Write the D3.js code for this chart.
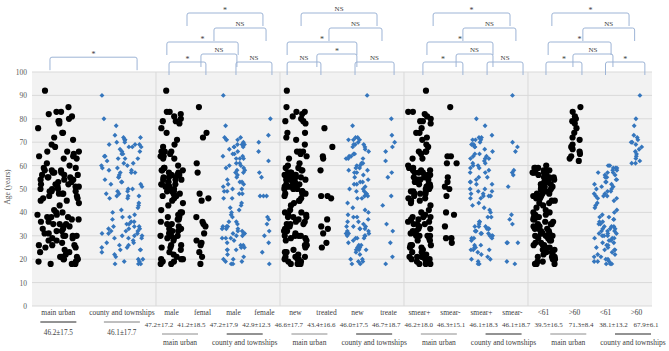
<!DOCTYPE html>
<html>
<head>
<meta charset="utf-8">
<script src="https://cdn.jsdelivr.net/npm/d3@7"></script>
<style>
body { margin: 0; background: #fff; }
svg { display: block; font-family: "Liberation Serif", "Times New Roman", serif; }
</style>
</head>
<body>
<div id="chart"></div>
<script>
// ---- data ----
const catLabels = ["main urban", "county and townships",
  "male", "femal", "male", "female",
  "new", "treated", "new", "treate",
  "smear+", "smear-", "smear+", "smear-",
  "<61", ">60", "<61", ">60"];
const catSite = ["main", "county",
  "main", "main", "county", "county",
  "main", "main", "county", "county",
  "main", "main", "county", "county",
  "main", "main", "county", "county"];
const meanSd = ["46.2±17.5", "46.1±17.7",
  "47.2±17.2", "41.2±18.5", "47.2±17.9", "42.9±12.3",
  "46.6±17.7", "43.4±16.6", "46.0±17.5", "46.7±18.7",
  "46.2±18.0", "46.3±15.1", "46.1±18.3", "46.1±18.7",
  "39.5±16.5", "71.3±8.4", "38.1±13.2", "67.9±6.1"];
const groupLabels = ["main urban", "county and townships", "main urban", "county and townships",
  "main urban", "county and townships", "main urban", "county and townships"];
const yTicks = [0, 10, 20, 30, 40, 50, 60, 70, 80, 90, 100];

// ages (years) per category
const mainUrban = [92, 85, 83, 83, 82, 81, 80, 79, 79, 78, 76, 74, 74, 72, 71, 69, 68, 66, 66, 66, 65, 64, 64, 63, 63, 61, 60,
  59, 59, 58, 58, 58, 57, 57, 57, 56, 56, 56, 55, 55, 55, 54, 54, 54, 53, 53, 52, 52, 52, 51, 51, 51, 50, 50, 50,
  49, 49, 49, 48, 48, 48, 47, 47, 46, 46, 45, 45, 44, 43, 41, 40, 40,
  39, 39, 38, 38, 38, 37, 37, 36, 36, 35, 35, 35, 34, 34, 33, 33, 32, 32, 31, 31, 30, 30, 30, 30,
  29, 29, 28, 28, 27, 26, 26, 26, 25, 25, 24, 23, 23, 22, 21, 21, 21, 20, 20, 20, 19, 19, 18, 18, 18];
const county = [90, 80, 77, 73, 72, 72, 71, 71, 71, 70, 70, 69, 69, 69, 68, 68, 68, 67, 66, 66, 65, 65, 64, 64, 63, 63, 63,
  62, 61, 61, 60, 60, 59, 59, 58, 58, 57, 57, 57, 56, 55, 55, 54, 53, 53, 52, 52, 51, 50, 50, 49, 49, 48, 48, 47, 47, 47, 46, 46,
  44, 43, 42, 41, 40, 39, 38, 38, 37, 36, 36, 35, 35, 34, 34, 34, 33, 33, 33, 32, 32, 32, 31, 31, 31, 30, 30, 30, 29, 29, 29,
  28, 27, 27, 26, 26, 25, 25, 24, 24, 24, 23, 22, 21, 20, 20, 19, 19, 18, 18, 18];
const maleMain = [92, 83, 83, 82, 81, 80, 79, 79, 78, 76, 74, 71, 69, 68, 66, 66, 66, 65, 64, 64, 63, 63, 60, 59, 59, 58, 58, 58,
  57, 57, 56, 56, 56, 55, 55, 55, 54, 54, 54, 53, 53, 52, 52, 52, 51, 51, 51, 50, 50, 50, 49, 49, 49, 48, 48, 47, 47, 46, 45,
  44, 43, 41, 40, 40, 39, 39, 38, 38, 37, 37, 36, 35, 35, 34, 33, 33, 32, 32, 31, 30, 30, 30, 30, 29, 29, 28, 26, 26, 25, 25,
  24, 23, 22, 21, 20, 20, 20, 19, 19, 18, 18];
const femalMain = [85, 74, 72, 61, 57, 48, 46, 45, 38, 36, 35, 34, 31, 28, 27, 26, 23, 21, 18];
const maleCounty = [90, 77, 72, 72, 71, 71, 71, 70, 69, 69, 69, 68, 68, 68, 67, 66, 65, 65, 64, 64, 63, 63, 63, 61, 61, 60, 60,
  59, 59, 58, 58, 57, 57, 56, 55, 54, 53, 53, 52, 52, 51, 50, 50, 49, 49, 48, 48, 46, 46, 44, 43, 42, 41, 40, 39, 38, 36, 36,
  35, 34, 34, 34, 33, 33, 33, 32, 32, 31, 31, 31, 30, 30, 29, 29, 29, 28, 27, 26, 26, 25, 25, 24, 24, 24, 22, 21, 20, 20, 19, 19, 18, 18];
const femaleCounty = [80, 73, 70, 66, 62, 57, 55, 47, 47, 47, 38, 37, 35, 32, 30, 27, 23, 18];
const newMain = [92, 85, 83, 83, 82, 81, 80, 79, 79, 78, 74, 74, 72, 71, 69, 66, 66, 66, 65, 64, 63, 61, 60, 59, 59, 58, 58,
  57, 57, 57, 56, 56, 56, 55, 55, 55, 54, 54, 54, 53, 53, 52, 52, 52, 51, 51, 51, 50, 50, 50, 49, 49, 49, 48, 48, 48, 47, 46,
  45, 45, 44, 43, 41, 40, 40, 39, 39, 38, 38, 38, 37, 36, 36, 35, 35, 35, 34, 33, 32, 32, 31, 30, 30, 30, 30, 29, 29, 28, 28,
  26, 26, 26, 25, 24, 23, 23, 22, 21, 21, 21, 20, 20, 20, 19, 19, 18, 18, 18];
const treatedMain = [76, 68, 64, 63, 58, 47, 47, 46, 37, 34, 33, 31, 27, 25];
const newCounty = [90, 77, 72, 72, 71, 71, 71, 70, 69, 69, 69, 68, 68, 67, 66, 65, 65, 64, 64, 63, 63, 63, 61, 61, 60, 60,
  59, 59, 58, 58, 57, 57, 56, 55, 54, 53, 53, 52, 52, 51, 50, 50, 49, 49, 48, 48, 47, 47, 46, 46, 44, 42, 41, 40, 39, 38, 38,
  37, 36, 36, 35, 34, 34, 34, 33, 33, 33, 32, 32, 31, 31, 31, 30, 30, 30, 29, 29, 29, 28, 27, 26, 26, 25, 25, 24, 24, 24,
  23, 22, 20, 20, 19, 19, 18, 18];
const treatedCounty = [80, 73, 70, 68, 66, 62, 57, 55, 47, 43, 35, 32, 27, 21, 18];
const smearPosMain = [92, 83, 83, 82, 81, 80, 79, 79, 78, 76, 74, 74, 72, 71, 69, 68, 66, 66, 66, 65, 63, 63, 60, 59, 59,
  58, 58, 58, 57, 57, 57, 56, 56, 56, 55, 55, 54, 54, 54, 53, 52, 52, 52, 51, 51, 50, 50, 49, 49, 49, 48, 48, 48, 47, 46, 46,
  45, 45, 44, 43, 41, 40, 39, 38, 38, 38, 37, 37, 36, 36, 35, 35, 35, 34, 33, 33, 32, 32, 31, 31, 30, 30, 30, 30, 29, 28, 28,
  26, 26, 26, 25, 25, 24, 23, 23, 22, 21, 21, 21, 20, 20, 20, 19, 19, 18, 18, 18];
const smearNegMain = [85, 64, 64, 61, 61, 55, 53, 51, 50, 47, 40, 39, 34, 29, 29, 27];
const smearPosCounty = [80, 77, 73, 72, 72, 71, 71, 71, 70, 69, 69, 69, 68, 68, 67, 66, 65, 65, 64, 64, 63, 63, 63, 62, 61, 61,
  60, 60, 59, 59, 58, 57, 57, 55, 55, 54, 53, 53, 52, 52, 50, 50, 49, 49, 48, 48, 47, 47, 47, 46, 46, 44, 43, 42, 41, 40, 38, 38,
  36, 36, 35, 34, 34, 34, 33, 33, 33, 32, 32, 32, 31, 31, 31, 30, 30, 30, 29, 29, 29, 28, 26, 26, 25, 25, 24, 24, 24, 23, 22,
  21, 20, 20, 19, 18, 18];
const smearNegCounty = [90, 70, 68, 66, 58, 57, 56, 51, 39, 37, 35, 27, 27, 27, 19, 18];
const under61Main = [60, 59, 59, 59, 58, 58, 58, 57, 57, 57, 57, 56, 56, 56, 55, 55, 55, 54, 54, 54, 53, 53, 53, 52, 52, 52,
  51, 51, 51, 50, 50, 50, 49, 49, 49, 48, 48, 48, 47, 47, 47, 46, 46, 45, 45, 44, 44, 43, 42, 41, 40, 40, 39, 39, 38, 38, 38,
  37, 37, 36, 36, 35, 35, 35, 34, 34, 33, 33, 33, 32, 32, 31, 31, 31, 30, 30, 30, 30, 29, 29, 28, 28, 27, 27, 26, 26, 26, 25,
  25, 24, 24, 23, 23, 22, 22, 21, 21, 21, 20, 20, 20, 19, 19, 18, 18, 18];
const over60Main = [85, 83, 81, 80, 79, 78, 76, 74, 72, 71, 69, 68, 67, 66, 65, 64, 63, 62];
const under61County = [60, 60, 59, 59, 59, 58, 58, 57, 57, 57, 56, 56, 55, 55, 54, 54, 53, 53, 52, 52, 51, 51, 50, 50, 49, 49,
  48, 48, 47, 47, 47, 46, 46, 45, 44, 43, 42, 41, 40, 39, 38, 38, 37, 37, 36, 36, 35, 35, 34, 34, 34, 33, 33, 33, 32, 32, 32,
  31, 31, 31, 30, 30, 30, 29, 29, 29, 28, 28, 27, 27, 26, 26, 25, 25, 24, 24, 24, 23, 22, 22, 21, 21, 20, 20, 19, 19, 19, 18, 18, 18];
const over60County = [90, 80, 77, 73, 72, 71, 70, 70, 69, 68, 67, 66, 65, 64, 63, 62, 61, 61];

const ages = [mainUrban, county, maleMain, femalMain, maleCounty, femaleCounty,
  newMain, treatedMain, newCounty, treatedCounty, smearPosMain, smearNegMain, smearPosCounty, smearNegCounty,
  under61Main, over60Main, under61County, over60County];

// significance brackets: [panel, from, to, level, label]  (from/to in category slots inside the panel)
const brackets = [
  [0, 0.58, 3.39, 1.6, "*"],
  [1, 0.42, 1.61, 1, "*"], [1, 1.45, 2.61, 2, "NS"], [1, 2.58, 3.74, 1, "NS"],
  [1, 0.35, 2.65, 3, "*"], [1, 1.87, 3.55, 4, "NS"], [1, 1.0, 3.45, 5, "*"],
  [2, 0.23, 1.32, 1, "NS"], [2, 1.19, 2.48, 2, "*"], [2, 2.42, 3.68, 1, "NS"],
  [2, 0.23, 2.48, 3, "*"], [2, 1.58, 3.29, 4, "NS"], [2, 0.68, 3.13, 5, "NS"],
  [3, 0.61, 1.9, 1, "*"], [3, 1.68, 2.87, 2, "NS"], [3, 2.68, 3.84, 1, "NS"],
  [3, 0.74, 2.87, 3, "*"], [3, 1.9, 3.61, 4, "NS"], [3, 0.94, 3.42, 5, "*"],
  [4, 0.58, 1.74, 1, "*"], [4, 1.45, 2.74, 2, "NS"], [4, 2.5, 3.77, 1, "*"],
  [4, 0.65, 2.68, 3, "*"], [4, 1.77, 3.44, 4, "NS"], [4, 0.77, 3.26, 5, "*"]
];

// ---- layout ----
const W = 669, H = 351;
const plot = { left: 32, right: 652, top: 72, bottom: 306 };
const textColor = "#404040";

const svg = d3.select("#chart").append("svg")
  .attr("width", W)
  .attr("height", H);

// 4 slots per panel, 5 panels
const x = d3.scaleLinear().domain([0, 20]).range([plot.left, plot.right]);
const y = d3.scaleLinear().domain([0, 100]).range([plot.bottom, plot.top]);

// slot centre of each category (first panel only has two, spread wider)
const catSlot = catLabels.map((d, k) => {
  if (k === 0) return 0.85;
  if (k === 1) return 2.9;
  const p = 1 + Math.floor((k - 2) / 4);
  return p * 4 + (k - 2) % 4 + 0.5;
});

// background + grid
svg.append("rect")
  .attr("x", plot.left).attr("y", plot.top)
  .attr("width", plot.right - plot.left)
  .attr("height", plot.bottom - plot.top)
  .attr("fill", "#f2f2f2");

svg.append("g")
  .selectAll("line")
  .data(yTicks)
  .enter().append("line")
  .attr("x1", plot.left).attr("x2", plot.right)
  .attr("y1", d => y(d)).attr("y2", d => y(d))
  .attr("stroke", "#d9d9d9")
  .attr("stroke-width", 1);

svg.append("g")
  .selectAll("line")
  .data([4, 8, 12, 16])
  .enter().append("line")
  .attr("x1", d => x(d)).attr("x2", d => x(d))
  .attr("y1", plot.top).attr("y2", plot.bottom)
  .attr("stroke", "#d9d9d9");

// y axis
const yAxis = svg.append("g")
  .attr("transform", `translate(${plot.left},0)`)
  .call(d3.axisLeft(y).tickValues(yTicks).tickSize(0).tickPadding(5));
yAxis.select(".domain").remove();
yAxis.selectAll("text")
  .attr("fill", "#595959")
  .style("font-family", "Liberation Serif")
  .style("font-size", "7.5px");

svg.append("text")
  .attr("transform", `translate(10,${(y(0) + y(100)) / 2 - 2}) rotate(-90)`)
  .attr("text-anchor", "middle")
  .attr("fill", "#595959")
  .style("font-size", "7.5px")
  .text("Age (years)");

// points with deterministic jitter
const jit = (g, i) => {
  const s = Math.sin(g * 78.233 + i * 12.9898) * 43758.5453;
  return s - Math.floor(s) - 0.5;
};
const diamond = d3.symbol().type(d3.symbolSquare).size(12);

ages.forEach((list, k) => {
  const half = k < 2 ? 0.68 : (list.length > 40 ? 0.37 : 0.2);
  const g = svg.append("g");
  const pts = list.map((a, i) => ({ a, cx: x(catSlot[k] + 2 * half * jit(k + 1, i)) }));
  if (catSite[k] === "main") {
    g.selectAll("circle")
      .data(pts)
      .enter().append("circle")
      .attr("cx", d => d.cx)
      .attr("cy", d => y(d.a))
      .attr("r", 3.1)
      .attr("fill", "#000");
  } else {
    g.selectAll("path")
      .data(pts)
      .enter().append("path")
      .attr("d", diamond)
      .attr("transform", d => `translate(${d.cx},${y(d.a)}) rotate(45)`)
      .attr("fill", "#3576bd");
  }
});

// category labels
svg.append("g")
  .selectAll("text")
  .data(catLabels)
  .enter().append("text")
  .attr("x", (d, k) => x(catSlot[k]))
  .attr("y", 315)
  .attr("text-anchor", "middle")
  .attr("fill", textColor)
  .style("font-size", "7.5px")
  .text(d => d);

// first panel: underline + mean±sd below
catLabels.slice(0, 2).forEach((d, k) => {
  const cx = x(catSlot[k]);
  svg.append("line")
    .attr("x1", cx - 18).attr("x2", cx + 18)
    .attr("y1", 322).attr("y2", 322)
    .attr("stroke", k === 0 ? "#262626" : "#7f7f7f");
  svg.append("text")
    .attr("x", cx).attr("y", 335)
    .attr("text-anchor", "middle")
    .attr("fill", textColor)
    .style("font-size", "7.2px")
    .text(meanSd[k]);
});

// other panels: mean±sd row, then site label with line above
const vx = d3.scalePoint().domain(d3.range(16)).range([159, 646]);
svg.append("g")
  .selectAll("text")
  .data(meanSd.slice(2))
  .enter().append("text")
  .attr("x", (d, i) => vx(i))
  .attr("y", 327)
  .attr("text-anchor", "middle")
  .attr("fill", textColor)
  .style("font-size", "7px")
  .text(d => d);

const gx = d3.scalePoint().domain(d3.range(8)).range([180, 633]);
const grp = svg.append("g")
  .selectAll("g")
  .data(groupLabels)
  .enter().append("g");
grp.append("line")
  .attr("x1", (d, i) => gx(i) - 18).attr("x2", (d, i) => gx(i) + 18)
  .attr("y1", 334).attr("y2", 334)
  .attr("stroke", d => d === "main urban" ? "#8c8c8c" : "#262626");
grp.append("text")
  .attr("x", (d, i) => gx(i))
  .attr("y", 345)
  .attr("text-anchor", "middle")
  .attr("fill", textColor)
  .style("font-size", "7.5px")
  .text(d => d);

// brackets
const levelY = d3.scaleLinear().domain([1, 2, 3, 4, 5]).range([62, 54, 42, 28, 13]);
const legLen = 13, r = 2;
const bg = svg.append("g");
brackets.forEach(([p, a, b, lv, lab]) => {
  const x1 = x(p * 4 + a), x2 = x(p * 4 + b);
  const top = levelY(lv), bot = top + legLen;
  bg.append("path")
    .attr("d", `M${x1},${bot}V${top + r}Q${x1},${top} ${x1 + r},${top}H${x2 - r}Q${x2},${top} ${x2},${top + r}V${bot}`)
    .attr("fill", "none")
    .attr("stroke", "#9db4d6")
    .attr("stroke-width", 1);
  bg.append("text")
    .attr("x", (x1 + x2) / 2)
    .attr("y", lab === "*" ? top : top - 2)
    .attr("text-anchor", "middle")
    .attr("fill", "#404040")
    .style("font-size", lab === "*" ? "8px" : "7px")
    .text(lab);
});
</script>
</body>
</html>
